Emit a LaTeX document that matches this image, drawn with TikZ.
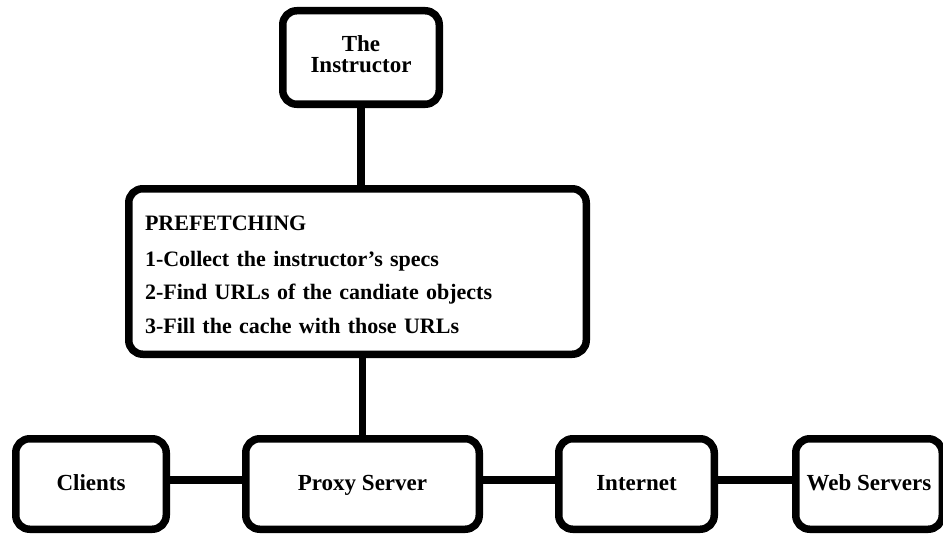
\documentclass[tikz,border=0pt]{standalone}
\usepackage{fontspec}
\setmainfont{Liberation Serif}
\begin{document}
\begin{tikzpicture}[x=1pt,y=-1pt,
  box/.style={draw=black, line width=7.5pt, rounded corners=14pt, inner sep=0pt,
    font=\fontsize{23}{21}\selectfont\bfseries, align=center},
  rowbox/.style={box, minimum height=90.5pt, text height=12pt, text depth=0pt},
  link/.style={draw=black, line width=7.5pt}]
\useasboundingbox (0,0) rectangle (943,535);
\fill[white] (0,0) rectangle (943,535);
\node[box, minimum width=156.5pt, minimum height=93.5pt, text depth=6pt] (ins) at (361,57.5) {The\\Instructor};
\node[box, minimum width=457.5pt, minimum height=165.5pt, inner xsep=16.25pt,
  text width=425pt, align=left,
  font=\fontsize{22}{33.5}\selectfont\bfseries] (pf) at (357.5,271.5)
  {\rule{0pt}{21pt}PREFETCHING\\[2.5pt]1-Collect the instructor’s specs\\2-Find URLs of the candiate objects\\3-Fill the cache with those URLs};
\node[rowbox, minimum width=150.5pt] (cl) at (91,484) {Clients};
\node[rowbox, minimum width=233.5pt] (px) at (362.5,484) {Proxy Server};
\node[rowbox, minimum width=155.5pt] (in) at (636.5,484) {Internet};
\node[rowbox, minimum width=146.5pt] (ws) at (869,484) {Web Servers};
\draw[link] (ins.south) -- (ins.south |- pf.north);
\draw[link] (px.north) -- (px.north |- pf.south);
\draw[link] ([yshift=4pt]cl.east) -- ([yshift=4pt]px.west);
\draw[link] ([yshift=4pt]px.east) -- ([yshift=4pt]in.west);
\draw[link] ([yshift=4pt]in.east) -- ([yshift=4pt]ws.west);
\end{tikzpicture}
\end{document}
